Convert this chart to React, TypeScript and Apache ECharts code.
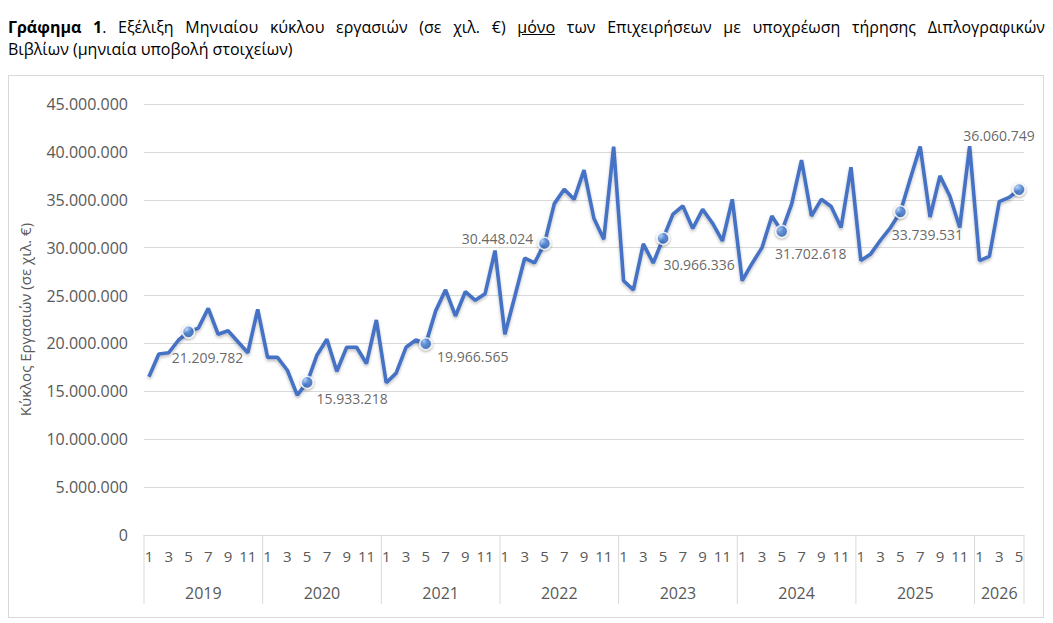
import React, { useEffect, useRef } from "react";
import * as echarts from "echarts";

// Years shown on the lower axis level and how many months each one covers
const years = [2019, 2020, 2021, 2022, 2023, 2024, 2025, 2026];
const monthsPerYear = [12, 12, 12, 12, 12, 12, 12, 5];

// Monthly turnover (thousand €), January 2019 – May 2026
const turnover2019 = [16530000, 18900000, 19030000, 20360000, 21209782, 21600000, 23670000, 20960000, 21330000, 20180000, 19030000, 23560000];
const turnover2020 = [18550000, 18550000, 17200000, 14600000, 15933218, 18800000, 20430000, 17100000, 19600000, 19600000, 17900000, 22450000];
const turnover2021 = [15900000, 16900000, 19600000, 20360000, 19966565, 23400000, 25600000, 22870000, 25400000, 24500000, 25200000, 29700000];
const turnover2022 = [20950000, 24900000, 28900000, 28400000, 30448024, 34600000, 36100000, 35050000, 38100000, 33070000, 30870000, 40550000];
const turnover2023 = [26550000, 25600000, 30400000, 28400000, 30966336, 33500000, 34350000, 32000000, 34000000, 32550000, 30700000, 35050000];
const turnover2024 = [26550000, 28350000, 30000000, 33300000, 31702618, 34550000, 39150000, 33300000, 35050000, 34300000, 32100000, 38400000];
const turnover2025 = [28650000, 29350000, 30800000, 32100000, 33739531, 37200000, 40550000, 33200000, 37500000, 35400000, 32100000, 40600000];
const turnover2026 = [28650000, 29100000, 34800000, 35250000, 36060749];

const turnover = [
  ...turnover2019, ...turnover2020, ...turnover2021, ...turnover2022,
  ...turnover2023, ...turnover2024, ...turnover2025, ...turnover2026,
];

// Month whose value is highlighted with a marker and a label in every year
const markedMonth = 5;

// Value axis
const yMin = 0;
const yMax = 45000000;
const yStep = 5000000;

// Where each highlighted label sits relative to its marker (px)
const labelOffsets: [number, number][] = [
  [19, 26], [45, 16], [47, 13], [-47, -5], [36, 26], [29, 22], [27, 23], [-20, -54],
];

const FONT = "'Open Sans', 'Noto Sans', sans-serif";
const GREY = "#595959";
const RULE = "#d9d9d9";

const withDots = (v: number) =>
  Math.round(v).toString().replace(/\B(?=(\d{3})+(?!\d))/g, ".");

export default function App() {
  const ref = useRef<HTMLDivElement>(null);

  useEffect(() => {
    if (!ref.current) return;
    const chart = echarts.init(ref.current, undefined, { renderer: "svg" });

    // Category keys "YYYY-M" and the spans of each year on the axis
    const categories: string[] = [];
    const yearSpans: number[][] = [];
    years.forEach((y, k) => {
      yearSpans.push([categories.length, 0, monthsPerYear[k], y, k === years.length - 1 ? 1 : 0]);
      for (let m = 1; m <= monthsPerYear[k]; m++) categories.push(`${y}-${m}`);
    });

    const marked: any[] = [];
    categories.forEach((c, i) => {
      if (Number(c.split("-")[1]) === markedMonth) {
        const k = marked.length;
        marked.push({
          value: [i, turnover[i]],
          label: { offset: labelOffsets[k] },
        });
      }
    });

    chart.setOption({
      animation: false,
      textStyle: { fontFamily: FONT },
      grid: { left: 134, right: 19, top: 28, bottom: 82, containLabel: false },
      xAxis: {
        type: "category",
        data: categories,
        boundaryGap: true,
        axisLine: { show: true, lineStyle: { color: RULE, width: 1 } },
        axisTick: { show: false },
        axisLabel: {
          interval: 1,
          margin: 13,
          color: GREY,
          fontSize: 15,
          fontFamily: FONT,
          formatter: (v: string) => v.split("-")[1],
        },
        splitLine: { show: false },
      },
      yAxis: {
        type: "value",
        min: yMin,
        max: yMax,
        interval: yStep,
        name: "Κύκλος Εργασιών (σε χιλ. €)",
        nameLocation: "middle",
        nameGap: 112,
        nameRotate: 90,
        nameTextStyle: { color: GREY, fontSize: 15, fontFamily: FONT },
        axisLine: { show: false },
        axisTick: { show: false },
        axisLabel: {
          color: GREY,
          fontSize: 16,
          margin: 16,
          fontFamily: FONT,
          formatter: (v: number) => withDots(v),
        },
        splitLine: { lineStyle: { color: RULE, width: 1 } },
      },
      series: [
        {
          type: "line",
          data: turnover,
          symbol: "none",
          lineStyle: {
            color: "#4472C4",
            width: 3.6,
            shadowColor: "rgba(0,0,0,0.25)",
            shadowBlur: 3,
            shadowOffsetY: 2,
          },
          emphasis: { disabled: true },
          z: 2,
        },
        {
          type: "scatter",
          data: marked,
          symbol: "circle",
          symbolSize: 12,
          itemStyle: {
            color: new echarts.graphic.RadialGradient(0.35, 0.3, 0.75, [
              { offset: 0, color: "#b5d4fa" },
              { offset: 0.5, color: "#4f86d6" },
              { offset: 1, color: "#2a5ca8" },
            ]),
            borderColor: "#ffffff",
            borderWidth: 1.5,
            shadowColor: "rgba(0,0,0,0.45)",
            shadowBlur: 3,
            shadowOffsetY: 1,
          },
          label: {
            show: true,
            position: "inside",
            align: "center",
            verticalAlign: "middle",
            color: "#404040",
            fontSize: 14,
            fontFamily: FONT,
            formatter: (p: any) => withDots(p.value[1]),
          },
          emphasis: { disabled: true },
          z: 3,
        },
        {
          // Lower axis level: year names with separators between the years
          type: "custom",
          clip: false,
          silent: true,
          data: yearSpans,
          encode: { x: 0, y: 1 },
          renderItem: (_params: any, api: any) => {
            const start = api.value(0);
            const count = api.value(2);
            const year = api.value(3);
            const isLast = api.value(4) === 1;
            const bw = api.size([1, 0], [start, 0])[0];
            const p0 = api.coord([start, 0]);
            const left = p0[0] - bw / 2;
            const right = api.coord([start + count - 1, 0])[0] + bw / 2;
            const y0 = p0[1];
            const children: any[] = [
              {
                type: "line",
                shape: { x1: left, y1: y0, x2: left, y2: y0 + 69 },
                style: { stroke: RULE, lineWidth: 1 },
              },
              {
                type: "text",
                style: {
                  text: String(year),
                  x: (left + right) / 2,
                  y: y0 + 58,
                  align: "center",
                  verticalAlign: "middle",
                  textAlign: "center",
                  textVerticalAlign: "middle",
                  fill: GREY,
                  fontSize: 16,
                  fontFamily: FONT,
                },
              },
            ];
            if (isLast) {
              children.push({
                type: "line",
                shape: { x1: right, y1: y0, x2: right, y2: y0 + 69 },
                style: { stroke: RULE, lineWidth: 1 },
              });
            }
            return { type: "group", children };
          },
          z: 1,
        },
      ],
    });

    return () => chart.dispose();
  }, []);

  const titleLine = {
    fontSize: 16,
    lineHeight: "22px",
    color: "#000",
    whiteSpace: "nowrap" as const,
  };

  return (
    <div style={{ width: 1037, fontFamily: FONT }}>
      <div style={{ paddingTop: 8 }}>
        <div style={{ ...titleLine, textAlign: "justify", textAlignLast: "justify" as any }}>
          <span style={{ fontWeight: 700 }}>Γράφημα 1</span>
          <span>. Εξέλιξη Μηνιαίου κύκλου εργασιών (σε χιλ. €) </span>
          <span style={{ textDecoration: "underline" }}>μόνο</span>
          <span> των Επιχειρήσεων με υποχρέωση τήρησης Διπλογραφικών</span>
        </div>
        <div style={titleLine}>
          <span>Βιβλίων (μηνιαία υποβολή στοιχείων)</span>
        </div>
      </div>
      <div
        ref={ref}
        style={{
          marginTop: 15,
          width: 1036,
          height: 543,
          border: "1px solid #d9d9d9",
          boxSizing: "border-box",
        }}
      />
    </div>
  );
}
